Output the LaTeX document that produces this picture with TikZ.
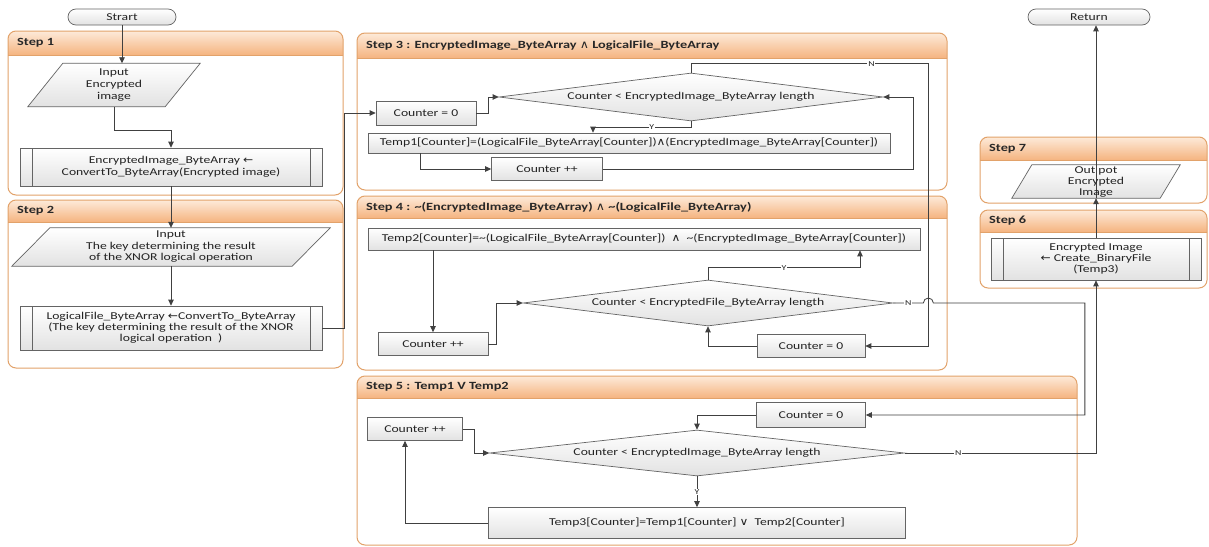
\documentclass[tikz,border=0pt]{standalone}
\usepackage{fontspec}
\setmainfont{Carlito}[FakeStretch=1.3]
\newfontfamily\symf{DejaVu Sans}[FakeStretch=1.15]
\usetikzlibrary{shapes.geometric,arrows.meta,calc}
\pgfdeclarelayer{cont}
\pgfdeclarelayer{iobg}
\pgfsetlayers{cont,iobg,main}
\definecolor{hdrtop}{RGB}{253,234,217}
\definecolor{hdrbot}{RGB}{245,180,128}
\definecolor{framec}{RGB}{226,162,106}
\definecolor{ln}{RGB}{64,64,64}
\definecolor{bx}{RGB}{100,100,100}
\definecolor{boxbot}{RGB}{226,226,226}
\definecolor{txt}{RGB}{35,35,35}
\definecolor{titc}{RGB}{40,40,40}
\tikzset{
  conn/.style={draw=ln, line width=0.8pt, -{Triangle[length=6pt,width=5.5pt]}},
  wire/.style={draw=ln, line width=0.8pt},
  shp/.style={draw=bx, line width=0.7pt, top color=white, bottom color=boxbot},
  txtf/.style={font=\fontsize{10.5}{11.5}\selectfont, text=txt, align=center},
  sz/.style 2 args={minimum width=#1, minimum height=#2, inner sep=0pt},
  box/.style={shp, txtf, rectangle},
  proc/.style={box, path picture={\draw[bx,line width=0.7pt]
     ([xshift=12pt]path picture bounding box.north west) -- ([xshift=12pt]path picture bounding box.south west)
     ([xshift=-12pt]path picture bounding box.north east) -- ([xshift=-12pt]path picture bounding box.south east);}},
  term/.style={box, rounded corners=8pt},
  dia/.style={shp, txtf, diamond, aspect=8},
  io/.style={txtf},
  lab/.style={fill=white, inner sep=0.8pt, font=\fontsize{7.5}{9}\selectfont, text=txt},
  steptitle/.style={anchor=west, inner sep=0pt, font=\bfseries\fontsize{11}{13}\selectfont, text=titc},
  framel/.style={draw=framec, line width=1pt},
}
\newcommand\stepframe[7]{%
  \begin{pgfonlayer}{cont}
    \begin{scope}
      \clip[rounded corners=8pt] (#1,#2) rectangle (#3,#4);
      \fill[white] (#1,#2) rectangle (#3,#4);
      \shade[top color=hdrtop,bottom color=hdrbot] (#1,#2) rectangle (#3,#5);
      \draw[framel] (#1,#5) -- (#3,#5);
    \end{scope}
    \draw[framel, rounded corners=8pt] (#1,#2) rectangle (#3,#4);
  \end{pgfonlayer}
  \node[steptitle] (#7) at ({#1+9},{(#2+#5)/2}) {#6};
}
\newcommand\iobox[2]{%
  \begin{pgfonlayer}{iobg}
    \draw[shp] ($(#1.north west)+(#2,0)$) -- (#1.north east) -- ($(#1.south east)-(#2,0)$) -- (#1.south west) -- cycle;
  \end{pgfonlayer}
}
\begin{document}
\begin{tikzpicture}[x=1pt,y=-1pt]
\useasboundingbox (0,0) rectangle (1209,546);
\begin{pgfonlayer}{cont}\fill[white] (0,0) rectangle (1209,546);\end{pgfonlayer}

% containers
\stepframe{8}{31}{343}{195}{55}{Step 1}{h1}
\stepframe{8}{200}{343}{368}{222}{Step 2}{h2}
\stepframe{357}{33}{947}{190}{58}{Step 3 : EncryptedImage\_ByteArray {\symf\mdseries ∧} LogicalFile\_ByteArray}{h3}
\stepframe{357}{196}{947}{370}{218}{Step 4 : \textasciitilde(EncryptedImage\_ByteArray) {\symf\mdseries ∧} \textasciitilde(LogicalFile\_ByteArray)}{h4}
\stepframe{357}{376}{1077}{545}{398}{Step 5 : Temp1 V Temp2}{h5}
\stepframe{980}{210}{1207}{288}{232}{Step 6}{h6}
\stepframe{980}{137}{1207}{203}{160}{Step 7}{h7}

% left column
\node[term, sz={108}{16}] (start) at (122,17) {Strart};
\node[io, sz={172}{43}, font=\fontsize{10.5}{12}\selectfont] (in1) at (114,85) {Input\\Encrypted\\image}; \iobox{in1}{35}
\node[proc, sz={302}{38}, font=\fontsize{10.5}{12}\selectfont] (proc1) at (171,167) {EncryptedImage\_ByteArray {\symf ←}\\ConvertTo\_ByteArray(Encrypted image)};
\node[io, sz={318}{38}, font=\fontsize{10.5}{11.5}\selectfont] (in2) at (171,247) {Input\\The key determining the result\\of the XNOR logical operation}; \iobox{in2}{38}
\node[proc, sz={302}{44}, font=\fontsize{10.5}{11}\selectfont] (proc2) at (171,328) {LogicalFile\_ByteArray {\symf ←}ConvertTo\_ByteArray\\(The key determining the result of the XNOR\\logical operation~~)};

% step 3
\node[box, sz={100}{24}] (c3a) at (426,113) {Counter = 0};
\node[dia, sz={384}{48}] (d3) at (691,97) {Counter < EncryptedImage\_ByteArray length};
\node[box, sz={522}{20}] (t1) at (629,143) {Temp1[Counter]=(LogicalFile\_ByteArray[Counter]){\symf ∧}(EncryptedImage\_ByteArray[Counter])};
\node[box, sz={111}{23}] (c3b) at (547,169) {Counter ++};

% step 4
\node[box, sz={552}{22}] (t2) at (644,239) {Temp2[Counter]=\textasciitilde(LogicalFile\_ByteArray[Counter])~~{\symf ∧}~~\textasciitilde(EncryptedImage\_ByteArray[Counter])};
\node[box, sz={110}{23}] (c4a) at (433,344) {Counter ++};
\node[dia, sz={370}{46}] (d4) at (708,303) {Counter < EncryptedFile\_ByteArray length};
\node[box, sz={108}{23}] (c4b) at (811,346) {Counter = 0};

% step 5
\node[box, sz={109}{25}] (c5a) at (811,415) {Counter = 0};
\node[box, sz={95}{23}] (c5b) at (415,429) {Counter ++};
\node[dia, sz={415}{46}] (d5) at (697,453) {Counter < EncryptedImage\_ByteArray length};
\node[box, sz={417}{31}] (t3) at (697,523) {Temp3[Counter]=Temp1[Counter] {\symf ∨}~~Temp2[Counter]};

% steps 6, 7
\node[proc, sz={210}{42}, font=\fontsize{10.5}{11}\selectfont] (p6) at (1096,259) {Encrypted Image\\{\symf ←} Create\_BinaryFile\\(Temp3)};
\node[io, sz={168}{33}, font=\fontsize{10.5}{11}\selectfont] (o7) at (1096,181.5) {Out pot\\Encrypted\\Image}; \iobox{o7}{20}
\node[term, sz={122}{16}] (ret) at (1089,17) {Return};
\begin{pgfonlayer}{iobg}\draw[wire] (o7.south) -- (o7.north);\end{pgfonlayer}

% connectors: left column
\draw[conn] (start.south) -- (start.south |- in1.north);
\draw[conn] (in1.south) -- ++(0,24) -| (proc1.north);
\draw[conn] (proc1.south) -- (in2.north);
\draw[conn] (in2.south) -- (proc2.north);
\draw[conn] (proc2.east) -- ++(22,0) |- (c3a.west);

% step 3
\draw[conn] (c3a.east) -- ++(12,0) |- (d3.west);
\draw[conn] (d3.south) -- ++(0,6) -| node[lab, pos=0.2]{Y} ([xshift=-36pt]t1.north);
\draw[conn] ([xshift=-209pt]t1.south) |- (c3b.west);
\draw[conn] (c3b.east) -| ([xshift=30pt]d3.east) -- (d3.east);
\draw[conn] (d3.north) -- ++(0,-9) -| node[lab, pos=0.38]{N} ([xshift=63pt]c4b.east) -- (c4b.east);

% step 4
\draw[conn] (t2.south -| c4a.north) -- (c4a.north);
\draw[conn] (c4a.east) -- ++(8,0) |- (d4.west);
\draw[conn] (d4.north) -- ++(0,-12) -| node[lab, pos=0.25]{Y} ([xshift=216pt]t2.south);
\draw[conn] (c4b.west) -| (d4.south);
\draw[conn] (d4.east) -- node[lab]{N} ([xshift=30pt]d4.east) arc[start angle=180, end angle=0, radius=5pt] -| ([xshift=219pt]c5a.east) -- (c5a.east);

% step 5
\draw[conn] (c5a.west) -| (d5.north);
\draw[conn] (c5b.east) -- ++(12,0) |- (d5.west);
\draw[conn] (d5.south) -- node[lab]{Y} (t3.north);
\draw[conn] (t3.west) -| ([xshift=-10pt]c5b.south);
\draw[conn] (d5.east) -| node[lab, pos=0.14]{N} (p6.south);

% steps 6, 7
\draw[conn] (p6.north) -- (o7.south);
\draw[conn] (o7.north) -- (o7.north |- ret.south);
\end{tikzpicture}
\end{document}
